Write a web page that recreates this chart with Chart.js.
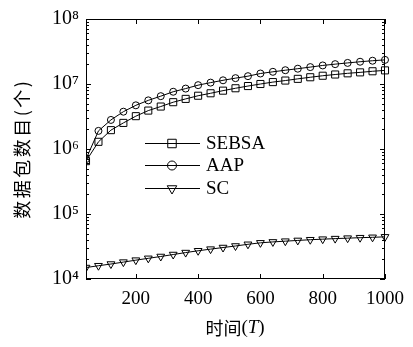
<!DOCTYPE html>
<html>
<head>
<meta charset="utf-8">
<script src="https://cdn.jsdelivr.net/npm/chart.js@4.4.0/dist/chart.umd.min.js"></script>
<style>
html, body { margin: 0; padding: 0; background: #fff; }
</style>
</head>
<body>
<canvas id="myChart" width="413" height="347"></canvas>
<script>
// time steps (T)
let periods = [40, 80, 120, 160, 200, 240, 280, 320, 360, 400, 440, 480, 520,
               560, 600, 640, 680, 720, 760, 800, 840, 880, 920, 960, 1000];
let sebsa = [6.5e5, 1.29e6, 1.95e6, 2.52e6, 3.2e6, 3.9e6, 4.5e6, 5.25e6, 5.9e6, 6.6e6,
             7.2e6, 7.9e6, 8.6e6, 9.3e6, 1.0e7, 1.07e7, 1.13e7, 1.2e7, 1.27e7, 1.34e7,
             1.4e7, 1.46e7, 1.51e7, 1.57e7, 1.62e7];
let aap = [7.0e5, 1.9e6, 2.8e6, 3.75e6, 4.7e6, 5.6e6, 6.5e6, 7.6e6, 8.5e6, 9.6e6,
           1.05e7, 1.14e7, 1.23e7, 1.32e7, 1.45e7, 1.54e7, 1.63e7, 1.72e7, 1.82e7, 1.93e7,
           2.02e7, 2.11e7, 2.2e7, 2.28e7, 2.35e7];
let sc = [1.5e4, 1.6e4, 1.7e4, 1.82e4, 1.95e4, 2.08e4, 2.22e4, 2.38e4, 2.55e4, 2.72e4,
          2.88e4, 3.05e4, 3.22e4, 3.42e4, 3.6e4, 3.72e4, 3.82e4, 3.92e4, 4.02e4, 4.1e4,
          4.18e4, 4.25e4, 4.32e4, 4.38e4, 4.45e4];
let seriesNames = ['SEBSA', 'AAP', 'SC'];
let xTicks = [200, 400, 600, 800, 1000];
let yDecades = [1e4, 1e5, 1e6, 1e7, 1e8];
let yTitle = '数据包数目(个)';

const SERIF = '"Liberation Serif", "Times New Roman", serif';
const CJK = '"Noto Sans CJK SC", sans-serif';

function sup(n) {
    const s = '⁰¹²³⁴⁵⁶⁷⁸⁹';
    return String(n).split('').map(d => s[+d]).join('');
}

function pts(vals) {
    return periods.map((p, i) => ({ x: p, y: vals[i] }));
}

function series(label, vals, style, r, rot) {
    return {
        label: label,
        data: pts(vals),
        borderColor: '#000',
        borderWidth: 1,
        backgroundColor: 'rgba(0,0,0,0)',
        pointStyle: style,
        pointRadius: r,
        pointRotation: rot,
        pointBorderColor: '#000',
        pointBackgroundColor: 'rgba(0,0,0,0)',
        pointBorderWidth: 1,
        tension: 0,
        clip: { left: 0, right: 6, top: 6, bottom: 6 }
    };
}

// frame, inward ticks, legend and axis titles
const decorations = {
    id: 'decorations',
    afterDraw(chart) {
        const ctx = chart.ctx;
        const a = chart.chartArea;
        const x = chart.scales.x, y = chart.scales.y;
        ctx.save();
        ctx.strokeStyle = '#000';
        ctx.lineWidth = 1;
        ctx.strokeRect(Math.round(a.left) + 0.5, Math.round(a.top) + 0.5,
                       Math.round(a.right - a.left) - 1, Math.round(a.bottom - a.top) - 1);

        ctx.beginPath();
        xTicks.forEach(v => {
            let px = Math.round(x.getPixelForValue(v)) + 0.5;
            ctx.moveTo(px, a.bottom); ctx.lineTo(px, a.bottom - 5);
            ctx.moveTo(px, a.top); ctx.lineTo(px, a.top + 5);
        });
        yDecades.forEach((d, i) => {
            let py = Math.round(y.getPixelForValue(d)) + 0.5;
            ctx.moveTo(a.left, py); ctx.lineTo(a.left + 5, py);
            ctx.moveTo(a.right, py); ctx.lineTo(a.right - 5, py);
            if (i < yDecades.length - 1) {
                for (let m = 2; m <= 9; m++) {
                    let pm = Math.round(y.getPixelForValue(d * m)) + 0.5;
                    ctx.moveTo(a.left, pm); ctx.lineTo(a.left + 3, pm);
                    ctx.moveTo(a.right, pm); ctx.lineTo(a.right - 3, pm);
                }
            }
        });
        ctx.stroke();

        // legend inside the plot
        let legY = [143, 165, 188];
        chart.data.datasets.forEach((ds, i) => {
            let ly = legY[i] + 0.5;
            ctx.beginPath();
            ctx.moveTo(145, ly); ctx.lineTo(200, ly);
            ctx.stroke();
            ctx.fillStyle = 'rgba(0,0,0,0)';
            Chart.helpers.drawPoint(ctx, {
                pointStyle: ds.pointStyle,
                radius: ds.pointRadius + 1,
                rotation: ds.pointRotation,
                borderWidth: 1
            }, 172, ly);
            ctx.fillStyle = '#000';
            ctx.font = '19px ' + SERIF;
            ctx.textBaseline = 'middle';
            ctx.textAlign = 'left';
            ctx.fillText(ds.label, 206, ly + 1);
        });

        // y title, vertical
        ctx.save();
        ctx.translate(22, 150);
        ctx.rotate(-Math.PI / 2);
        ctx.font = '18px ' + CJK;
        ctx.fillStyle = '#000';
        ctx.textBaseline = 'middle';
        let chars = yTitle.split('');
        let gap = 2.5;
        let widths = chars.map(c => ctx.measureText(c).width);
        let total = widths.reduce((s, w) => s + w, 0) + gap * (chars.length - 1);
        let cx = -total / 2;
        chars.forEach((c, i) => {
            ctx.fillText(c, cx, 0);
            cx += widths[i] + gap;
        });
        ctx.restore();

        // x title: 时间(T)
        let parts = [
            { t: '时间', f: '18px ' + CJK },
            { t: '(', f: '19px ' + SERIF },
            { t: 'T', f: 'italic 19px ' + SERIF },
            { t: ')', f: '19px ' + SERIF }
        ];
        let tw = 0;
        parts.forEach(p => { ctx.font = p.f; p.w = ctx.measureText(p.t).width; tw += p.w; });
        let tx = 235 - tw / 2;
        ctx.textBaseline = 'middle';
        parts.forEach(p => {
            ctx.font = p.f;
            ctx.fillText(p.t, tx, 328);
            tx += p.w;
        });
        ctx.restore();
    }
};

let ctx = document.getElementById('myChart').getContext('2d');
var myChart = new Chart(ctx, {
    type: 'line',
    data: {
        datasets: [
            series(seriesNames[0], sebsa, 'rect', 5, 0),
            series(seriesNames[1], aap, 'circle', 3.5, 0),
            series(seriesNames[2], sc, 'triangle', 4.5, 180)
        ]
    },
    options: {
        responsive: false,
        animation: false,
        devicePixelRatio: 1,
        layout: { padding: { top: 17, right: 20, left: 0, bottom: 0 } },
        plugins: { legend: { display: false }, tooltip: { enabled: false } },
        scales: {
            x: {
                type: 'linear',
                min: 40,
                max: 1000,
                grid: { display: false, drawTicks: false },
                border: { display: false },
                afterBuildTicks: s => { s.ticks = xTicks.map(v => ({ value: v })); },
                afterFit: s => { s.height = 68; },
                ticks: {
                    color: '#000',
                    font: { family: SERIF, size: 19 },
                    padding: 9,
                    maxRotation: 0,
                    autoSkip: false,
                    callback: v => String(v)
                }
            },
            y: {
                type: 'logarithmic',
                min: 1e4,
                max: 1e8,
                grid: { display: false, drawTicks: false },
                border: { display: false },
                afterBuildTicks: s => { s.ticks = yDecades.map(v => ({ value: v, major: true })); },
                afterFit: s => { s.width = 86; },
                ticks: {
                    color: '#000',
                    font: { family: SERIF, size: 20 },
                    padding: 7,
                    autoSkip: false,
                    callback: v => '10' + sup(Math.round(Math.log10(v)))
                }
            }
        }
    },
    plugins: [decorations]
});
</script>
</body>
</html>
